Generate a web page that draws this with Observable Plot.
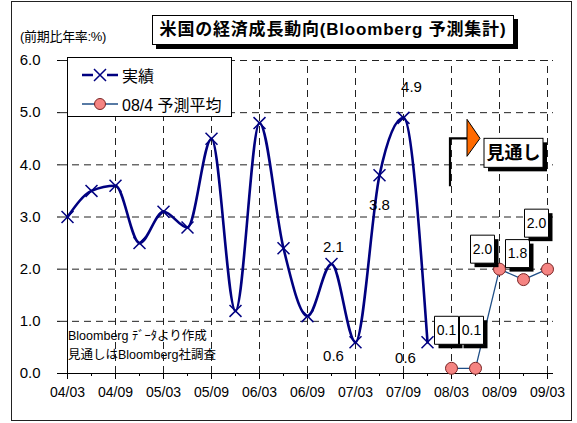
<!DOCTYPE html>
<html><head><meta charset="utf-8">
<script src="https://cdn.jsdelivr.net/npm/d3@7"></script>
<script src="https://cdn.jsdelivr.net/npm/@observablehq/plot@0.6"></script>
<style>
body{margin:0;background:#fff;}
#wrap{position:relative;width:577px;height:423px;font-family:"Liberation Sans","Noto Sans CJK JP",sans-serif;color:#000;overflow:hidden;background:#fff}
#wrap svg.plot{position:absolute;left:0;top:0}
#frame{position:absolute;left:11px;top:1px;width:561px;height:420px;border:1.5px solid #222;box-sizing:border-box;pointer-events:none}
#unit{position:absolute;left:20px;top:26px;font-size:13px;white-space:nowrap;letter-spacing:-0.3px}
#title{position:absolute;left:152px;top:15px;width:362px;height:30px;border:1px solid #000;background:#fff;box-shadow:4px 4px 0 #000;box-sizing:border-box;font-weight:bold;font-size:17px;letter-spacing:0.8px;line-height:28px;text-align:center;white-space:nowrap}
#legend{position:absolute;left:67px;top:57px;width:165px;height:60px;border:1px solid #000;background:#fff;box-sizing:border-box}
#legend .row{position:absolute;left:0;height:24px;display:flex;align-items:center;font-size:16px;white-space:nowrap}
#legend svg{display:block}
#note{position:absolute;left:68px;top:327px;font-size:12.5px;line-height:19px;white-space:nowrap}
</style></head>
<body><div id="wrap"></div>
<script>
// ---- data ----
const quarters = ["04/03","04/06","04/09","04/12","05/03","05/06","05/09","05/12","06/03","06/06","06/09","06/12","07/03","07/06","07/09","07/12","08/03","08/06","08/09","08/12","09/03"];
const xTickLabels = ["04/03","04/09","05/03","05/09","06/03","06/09","07/03","07/09","08/03","08/09","09/03"];
const yTicks = [0,1,2,3,4,5,6];
const actualQuarters = ["04/03","04/06","04/09","04/12","05/03","05/06","05/09","05/12","06/03","06/06","06/09","06/12","07/03","07/06","07/09","07/12"];
const actualValues = [3.0,3.5,3.6,2.5,3.1,2.8,4.5,1.2,4.8,2.4,1.1,2.1,0.6,3.8,4.9,0.6];
const forecastQuarters = ["08/03","08/06","08/09","08/12","09/03"];
const forecastValues = [0.1,0.1,2.0,1.8,2.0];
const labeledActualQuarters = ["06/12","07/03","07/06","07/09","07/12"];
const seriesNames = ["実績","08/4 予測平均"];
const titleText = "米国の経済成長動向(Bloomberg 予測集計)";
const unitText = "(前期比年率:%)";
const outlookText = "見通し";
const noteLines = ["Bloomberg ﾃﾞｰﾀより作成","見通しはBloomberg社調査"];

// ---- build ----
const actual = actualQuarters.map((q,i)=>({q, v: actualValues[i]}));
const forecast = forecastQuarters.map((q,i)=>({q, v: forecastValues[i]}));

const NAVY = "#000080", FBLUE = "#1f4e86", PINK = "#f58482", PINKS = "#7a2525";
const DASH = "7,5";

// label placement (pixel offsets, style only)
const actualLabelOffsets = {"06/12":[2,-17],"07/03":[-22,14],"07/06":[0,30],"07/09":[8,-31],"07/12":[-22,16]};
const forecastBoxOffsets = {"08/03":[-5,-38],"08/06":[-4,-38],"08/09":[-17,-20],"08/12":[-6,-26],"09/03":[-11,-46]};

const boxSym = {draw(ctx){ ctx.moveTo(-12,-14); ctx.lineTo(12,-14); ctx.lineTo(12,14); ctx.lineTo(-12,14); ctx.closePath(); }};

const labelMarks = labeledActualQuarters.map(q => {
  const [dx,dy] = actualLabelOffsets[q];
  return Plot.text(actual.filter(d=>d.q===q), {x:"q", y:"v", text: d=>d.v.toFixed(1), dx, dy, fontSize:15, fill:"#000"});
});
const boxMarks = forecastQuarters.flatMap(q => {
  const [dx,dy] = forecastBoxOffsets[q];
  const sel = forecast.filter(d=>d.q===q);
  return [
    Plot.dot(sel, {x:"q", y:"v", symbol: boxSym, r:1, dx: dx+4, dy: dy+4, fill:"#000", stroke:"none"}),
    Plot.dot(sel, {x:"q", y:"v", symbol: boxSym, r:1, dx, dy, fill:"#fff", stroke:"#000", strokeWidth:1}),
    Plot.text(sel, {x:"q", y:"v", text: d=>d.v.toFixed(1), dx, dy, fontSize:14, fill:"#000"})
  ];
});

const chart = Plot.plot({
  width: 577, height: 423,
  marginLeft: 60, marginRight: 24, marginTop: 60, marginBottom: 50,
  style: {fontFamily: '"Liberation Sans","Noto Sans CJK JP",sans-serif', fontSize: "15px", color:"#000", background:"transparent", overflow:"visible"},
  x: {type:"point", domain: quarters, padding: 0},
  y: {domain: [0,6]},
  marks: [
    Plot.ruleY(yTicks.filter(t=>t>0), {stroke:"#222", strokeWidth:1, strokeDasharray: DASH}),
    Plot.ruleX(xTickLabels.slice(1), {y1:0, y2:6, stroke:"#222", strokeWidth:1, strokeDasharray: DASH}),
    Plot.ruleX([quarters[0]], {y1:0, y2:6, stroke:"#000", strokeWidth:1}),
    Plot.ruleY([0], {stroke:"#000", strokeWidth:1.2}),
    Plot.axisY({ticks: yTicks, tickFormat: d=>d.toFixed(1), tickSize:3, tickPadding:17, label:null, fontSize:15, stroke:"#000"}),
    Plot.axisX({ticks: quarters, tickSize:3, tickFormat: ()=>"", label:null, stroke:"#000"}),
    Plot.axisX({ticks: xTickLabels, tickSize:6, tickPadding:8, label:null, fontSize:14, stroke:"#000"}),
    Plot.line(actual, {x:"q", y:"v", curve:"monotone-x", stroke: NAVY, strokeWidth:2.6}),
    Plot.dot(actual, {x:"q", y:"v", symbol:"times", r:5.5, stroke: NAVY, strokeWidth:1.5}),
    Plot.line(forecast, {x:"q", y:"v", stroke: FBLUE, strokeWidth:1.3}),
    Plot.dot(forecast, {x:"q", y:"v", r:6, fill: PINK, stroke: PINKS, strokeWidth:1}),
    ...labelMarks,
    ...boxMarks
  ]
});
chart.classList.add("plot");

const wrap = document.getElementById("wrap");
wrap.appendChild(chart);

// Outlook annotation, positioned from scales
const xs = chart.scale("x"), ys = chart.scale("y");
const ax = xs.apply("08/03"), ay = ys.apply(4);
const bx = xs.apply("08/09");
const svg = d3.select(chart);
const g = svg.append("g");
g.append("path").attr("d", `M${ax-1},${ay+22}V${ay-26}H${ax+16}`).attr("fill","none").attr("stroke","#000").attr("stroke-width",2.2);
g.append("path").attr("d", `M${ax+16},${ay-45}L${ax+16},${ay-8}L${ax+29},${ay-26}Z`).attr("fill","#ff6a00").attr("stroke","#000").attr("stroke-width",1);
g.append("rect").attr("x", bx-15+4).attr("y", ay-26+4).attr("width",59).attr("height",29).attr("fill","#000");
g.append("rect").attr("x", bx-15).attr("y", ay-26).attr("width",59).attr("height",29).attr("fill","#fff").attr("stroke","#000");
g.append("text").attr("x", bx-15+29.5).attr("y", ay-26+15).attr("text-anchor","middle").attr("dominant-baseline","central")
  .attr("font-size",18).attr("font-weight","bold").text(outlookText);

// HTML overlays
const add = (html) => { const d = document.createElement("div"); d.innerHTML = html; const el = d.firstElementChild; wrap.appendChild(el); return el; };
add(`<div id="unit">${unitText}</div>`);
add(`<div id="title">${titleText}</div>`);
const legend = add(`<div id="legend"></div>`);
legend.innerHTML = `
<div class="row" style="top:5px"><svg width="54" height="24"><line x1="14" y1="12" x2="50" y2="12" stroke="${NAVY}" stroke-width="2.6"/><rect x="25" y="4" width="14" height="16" fill="#fff"/><path d="M26,6L38,18M38,6L26,18" stroke="${NAVY}" stroke-width="1.5"/></svg><span>${seriesNames[0]}</span></div>
<div class="row" style="top:34px"><svg width="54" height="24"><line x1="14" y1="12" x2="50" y2="12" stroke="${FBLUE}" stroke-width="1.3"/><circle cx="32" cy="12" r="5.5" fill="${PINK}" stroke="${PINKS}"/></svg><span>${seriesNames[1]}</span></div>`;
add(`<div id="note">${noteLines.join("<br>")}</div>`);
add(`<div id="frame"></div>`);
</script>
</body></html>
